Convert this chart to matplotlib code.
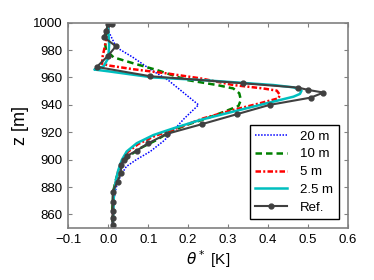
import matplotlib
matplotlib.use("Agg")
import matplotlib.pyplot as plt

plt.rcParams['font.family'] = ['Liberation Sans', 'DejaVu Sans']
plt.rcParams['mathtext.fontset'] = 'dejavusans'

# profiles (theta* [K], z [m])
x20 = [0.005, 0.0, 0.02, 0.06, 0.105, 0.15, 0.226, 0.19, 0.165, 0.14, 0.105, 0.07, 0.045, 0.03, 0.02, 0.013, 0.01, 0.01]
z20 = [1000, 994, 982, 975, 966, 958, 940, 930, 922, 914, 906, 900, 895, 888, 880, 870, 860, 850]

x10 = [0.0, -0.005, -0.008, -0.006, 0.013, 0.063, 0.121, 0.196, 0.272, 0.313, 0.328, 0.332, 0.326, 0.297, 0.247,
       0.196, 0.155, 0.121, 0.08, 0.05, 0.034, 0.021, 0.013, 0.01, 0.01]
z10 = [1000, 992, 985, 980, 974.7, 970.3, 965.5, 958.2, 954.5, 952, 948.5, 943.6, 939.2, 935.8, 930.2,
       925.4, 920.5, 914.4, 908.4, 902.3, 895, 887.7, 878, 865, 850]

x5 = [0.002, -0.004, -0.01, -0.014, -0.016, 0.004, 0.063, 0.146, 0.23, 0.313, 0.388, 0.422, 0.43, 0.426, 0.38,
      0.313, 0.238, 0.171, 0.118, 0.075, 0.048, 0.035, 0.025, 0.019, 0.014, 0.012, 0.011]
z5 = [999, 990, 981, 976, 970, 968.6, 966, 963, 959.4, 954.5, 952, 950.4, 947.2, 944.8, 941.2,
      936.3, 930.2, 922.9, 917.5, 911.5, 905.5, 899.5, 892, 885, 875.5, 865, 850]

x25 = [-0.001, 0.0, 0.002, 0.0, -0.012, -0.025, -0.035, 0.0, 0.113, 0.23, 0.33, 0.413, 0.464, 0.484, 0.48, 0.464,
       0.397, 0.313, 0.23, 0.163, 0.113, 0.071, 0.046, 0.034, 0.025, 0.019, 0.014, 0.013, 0.011]
z25 = [1000, 993.7, 984, 974.2, 968.2, 966.5, 965.8, 964.5, 960, 958.2, 956.2, 954.5, 952.8, 950.4, 948, 946,
       941.2, 935.1, 929, 922.9, 918, 912, 906, 900, 892.5, 885.3, 875.5, 865.8, 851]

xref = [0.009, 0.0, -0.006, -0.011, 0.019, -0.002, -0.029, 0.105, 0.337, 0.476, 0.501, 0.539, 0.507, 0.404,
        0.322, 0.234, 0.146, 0.100, 0.071, 0.046, 0.038, 0.032, 0.031, 0.023, 0.011, 0.011, 0.011, 0.011, 0.011]
zref = [999, 999, 994.2, 989.3, 982.8, 975.5, 967.7, 960.9, 955.8, 952.6, 950.9, 949, 945.3, 940,
        933.2, 925.9, 918.8, 912, 906.6, 902.7, 899.8, 896.2, 890, 884, 876.7, 869.4, 862.6, 857.3, 852.4]

fig = plt.figure(figsize=(3.74, 2.8), dpi=100)
ax = fig.add_axes([0.183, 0.185, 0.747, 0.734])

ax.plot(x20, z20, color='b', lw=1.1, dashes=(1, 1), label='20 m')
ax.plot(x10, z10, color='g', lw=1.8, dashes=(2.6, 1.6), label='10 m')
ax.plot(x5, z5, color='r', lw=1.8, dashes=(2.2, 0.9, 0.8, 0.9), label='5 m')
ax.plot(x25, z25, '-', color='c', lw=1.8, label='2.5 m')
ax.plot(xref, zref, '-o', color='#404040', lw=1.5, ms=3.5, label='Ref.')

ax.set_xlim(-0.1, 0.6)
ax.set_ylim(850, 1000)
ax.set_xticks([-0.1, 0.0, 0.1, 0.2, 0.3, 0.4, 0.5, 0.6])
ax.set_yticks([860, 880, 900, 920, 940, 960, 980, 1000])
ax.set_xticklabels(['\u22120.1', '0.0', '0.1', '0.2', '0.3', '0.4', '0.5', '0.6'])
ax.tick_params(direction='in', top=True, right=True, color='#808080', labelsize=9.5, length=3, pad=4)
for s in ax.spines.values():
    s.set_color('#808080')
    s.set_linewidth(1.2)

ax.set_xlabel(r'$\theta^*$ [K]', fontsize=11, labelpad=2)
ax.set_ylabel('z [m]', fontsize=13, labelpad=3)

leg = ax.legend(loc='lower right', fontsize=9.5, fancybox=False, framealpha=1,
                handlelength=2.4, handletextpad=1.0, borderaxespad=0.7, labelspacing=0.42)
leg.get_frame().set_edgecolor('black')

fig.savefig('out.png', dpi=100)
